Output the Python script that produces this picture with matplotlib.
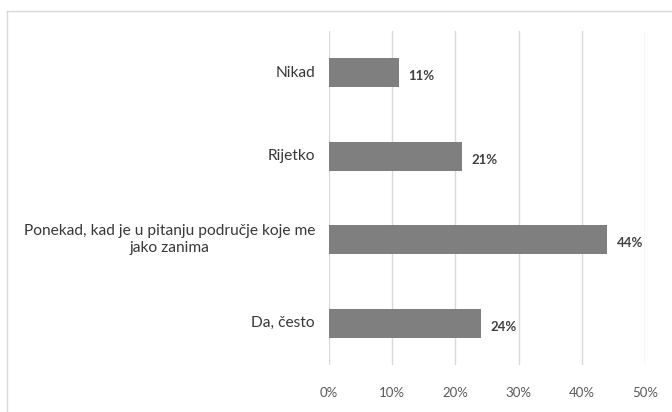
import matplotlib.pyplot as plt
import matplotlib.transforms as mtransforms
from matplotlib.lines import Line2D

# data
categories = ['Da, često', 'Ponekad, kad je u pitanju područje koje me\njako zanima', 'Rijetko', 'Nikad']
values = [24, 44, 21, 11]
ticks = [0, 10, 20, 30, 40, 50]
tick_labels = ['0%', '10%', '20%', '30%', '40%', '50%']

plt.rcParams['font.family'] = 'Lato'

fig = plt.figure(figsize=(6.72, 4.12), dpi=100)
ax = fig.add_axes([329 / 672, 1 - 365 / 412, (645 - 329) / 672, (365 - 31) / 412])

ypos = list(range(len(categories)))
ax.barh(ypos, values, height=0.35, color='#7f7f7f', zorder=3)
for y, v in zip(ypos, values):
    ax.text(v + 1.6, y - 0.04, '{}%'.format(v), va='center', ha='left',
            fontsize=9.5, fontweight='bold', color='#404040')

ax.set_xlim(0, 50)
ax.set_ylim(-0.5, 3.5)
ax.set_xticks(ticks)
ax.set_xticklabels(tick_labels, fontsize=9.5, color='#595959')
ax.set_yticks([])
ax.tick_params(axis='both', length=0)
ax.tick_params(axis='x', pad=16)
ax.grid(axis='x', color='#d9d9d9', linewidth=1, zorder=0)
for s in ax.spines.values():
    s.set_visible(False)

# category labels: each line is its own text, all centred on the widest line
renderer = fig.canvas.get_renderer()
line_h = 17  # pixels between wrapped lines
for y, c in zip(ypos, categories):
    lines = c.split('\n')
    texts = [ax.text(0, y, s, ha='center', va='center', fontsize=11.2, color='#383838')
             for s in lines]
    w = max(t.get_window_extent(renderer).width for t in texts)
    n = len(lines)
    for i, t in enumerate(texts):
        dy = ((n - 1) / 2 - i) * line_h
        t.set_transform(ax.get_yaxis_transform()
                        + mtransforms.ScaledTranslation(-(10 + w * 72 / fig.dpi / 2) / 72,
                                                        dy / fig.dpi, fig.dpi_scale_trans))

# outer chart border (only top and left edges are visible)
fig.add_artist(Line2D([7 / 672, 1], [1 - 11 / 412, 1 - 11 / 412], color='#d9d9d9', lw=1))
fig.add_artist(Line2D([7 / 672, 7 / 672], [0, 1 - 11 / 412], color='#d9d9d9', lw=1))

fig.savefig('out.png', dpi=100)
